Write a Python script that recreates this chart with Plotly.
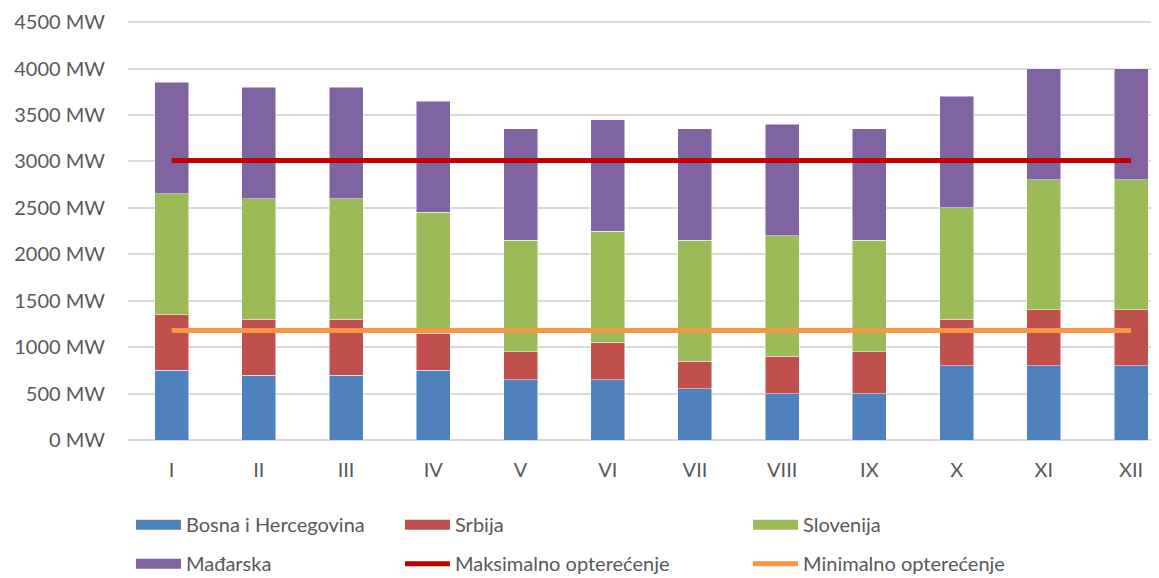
import plotly.graph_objects as go

months = ["I", "II", "III", "IV", "V", "VI", "VII", "VIII", "IX", "X", "XI", "XII"]
bih = [750, 700, 700, 750, 650, 650, 550, 500, 500, 800, 800, 800]
srbija = [600, 600, 600, 400, 300, 400, 300, 400, 450, 500, 600, 600]
slovenija = [1300, 1300, 1300, 1300, 1200, 1200, 1300, 1300, 1200, 1200, 1400, 1400]
madjarska = [1200, 1200, 1200, 1200, 1200, 1200, 1200, 1200, 1200, 1200, 1200, 1200]
max_opt = [3010] * 12
min_opt = [1180] * 12
y_ticks = [0, 500, 1000, 1500, 2000, 2500, 3000, 3500, 4000, 4500]

FONT = "Lato"
TXT = "#595959"
fs = 20

fig = go.Figure()
bar_specs = [
    ("Bosna i Hercegovina", bih, "#4F81BD", "legend"),
    ("Srbija", srbija, "#C0504D", "legend2"),
    ("Slovenija", slovenija, "#9BBB59", "legend3"),
    ("Mađarska", madjarska, "#8064A2", "legend"),
]
for name, vals, col, lg in bar_specs:
    fig.add_trace(go.Bar(
        x=months, y=vals, name=name, width=0.39,
        marker=dict(color=col, line=dict(color="rgba(255,255,255,0.6)", width=0.8)),
        legend=lg, legendgroup=name, showlegend=False,
    ))
    # legend entry drawn as a wide colour block (like the original legend keys)
    fig.add_trace(go.Scatter(
        x=[None], y=[None], mode="lines", name=name,
        line=dict(color=col, width=14), legend=lg, legendgroup=name,
        hoverinfo="skip",
    ))

fig.add_trace(go.Scatter(x=months, y=max_opt, name="Maksimalno opterećenje", mode="lines",
                         line=dict(color="#C00000", width=5), legend="legend2",
                         legendgroup="max"))
fig.add_trace(go.Scatter(x=months, y=min_opt, name="Minimalno opterećenje", mode="lines",
                         line=dict(color="#F79646", width=5), legend="legend3",
                         legendgroup="min"))

leg_common = dict(orientation="v", xref="paper", yref="paper", yanchor="top",
                  xanchor="left", y=-0.1555, font=dict(family=FONT, size=fs, color=TXT),
                  tracegroupgap=10, bgcolor="rgba(0,0,0,0)", itemwidth=45,
                  traceorder="grouped")

fig.update_layout(
    barmode="stack",
    width=1159, height=578,
    margin=dict(l=120, r=8, t=13, b=146, autoexpand=False),
    plot_bgcolor="white", paper_bgcolor="white",
    font=dict(family=FONT, size=fs, color=TXT),
    showlegend=True,
    legend=dict(x=0.0029, **leg_common),
    legend2=dict(x=0.2638, **leg_common),
    legend3=dict(x=0.6014, **leg_common),
    xaxis=dict(type="category", range=[-0.5, 11.32], showgrid=False, showline=False,
               ticks="", tickfont=dict(family=FONT, size=fs, color=TXT),
               ticklabelstandoff=16),
    yaxis=dict(range=[0, 4512], tickvals=y_ticks,
               ticktext=[f"{v} MW" for v in y_ticks],
               showgrid=True, gridcolor="#D9D9D9", gridwidth=1.5, zeroline=True,
               zerolinecolor="#D9D9D9", zerolinewidth=1.5, showline=False, ticks="",
               tickfont=dict(family=FONT, size=fs, color=TXT),
               ticklabelstandoff=22),
    bargap=0.61,
)

fig.write_html("out.html")
